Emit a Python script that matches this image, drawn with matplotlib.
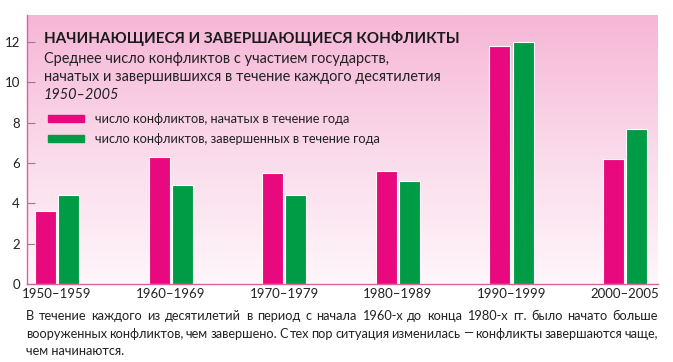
import numpy as np
import matplotlib
matplotlib.use("Agg")
import matplotlib.pyplot as plt
from matplotlib.colors import LinearSegmentedColormap

# data
decades = ["1950–1959", "1960–1969", "1970–1979", "1980–1989", "1990–1999", "2000–2005"]
started = [3.6, 6.3, 5.5, 5.6, 11.8, 6.2]
ended = [4.4, 4.9, 4.4, 5.1, 12.0, 7.7]
yticks = [0, 2, 4, 6, 8, 10, 12]

title = "НАЧИНАЮЩИЕСЯ И ЗАВЕРШАЮЩИЕСЯ КОНФЛИКТЫ"
subtitle = ["Среднее число конфликтов с участием государств,",
            "начатых и завершившихся в течение каждого десятилетия"]
period = "1950–2005"
legend_labels = ["число конфликтов, начатых в течение года",
                 "число конфликтов, завершенных в течение года"]
caption = ["В течение каждого из десятилетий в период с начала 1960-х до конца 1980-х гг. было начато больше",
           "вооруженных конфликтов, чем завершено. С тех пор ситуация изменилась — конфликты завершаются чаще,",
           "чем начинаются."]

PINK = "#E8097F"
GREEN = "#009B45"
FONT = "Lato"
W, H = 673, 362

plt.rcParams['font.family'] = [FONT, 'DejaVu Sans']

fig = plt.figure(figsize=(W / 100, H / 100), dpi=100)
ax = fig.add_axes([27 / W, 1 - 284 / H, (658 - 27) / W, (284 - 15) / H])

def px(x, y):
    return x / W, 1 - y / H

# pink gradient background
cmap = LinearSegmentedColormap.from_list("bg", ["#F6B6D6", "#FADAEA", "#FFF6FA"])
grad = np.linspace(0, 1, 256).reshape(-1, 1)
ax.imshow(grad, cmap=cmap, aspect="auto", extent=[0, 1, 0, 1],
          transform=ax.transAxes, zorder=0)

x = np.arange(len(decades))
bw = 0.185
ax.bar(x - 0.102, started, bw, color=PINK, edgecolor="white", linewidth=0.8, zorder=2)
ax.bar(x + 0.102, ended, bw, color=GREEN, edgecolor="white", linewidth=0.8, zorder=2)

ax.set_xlim(-0.264, 5.29)
ax.set_ylim(0, 13.34)
ax.set_yticks(yticks)
ax.set_xticks(x)
ax.set_xticklabels(decades)
ax.tick_params(axis="y", direction="in", length=6, width=0.8, color="#9a7a88",
               labelsize=9.5, pad=5, labelcolor="#222222")
ax.tick_params(axis="x", length=0, labelsize=9.5, pad=3, labelcolor="#222222")
for s in ["top", "right"]:
    ax.spines[s].set_visible(False)
for s in ["left", "bottom"]:
    ax.spines[s].set_color("#E0609A")
    ax.spines[s].set_linewidth(1.0)

# titles
fig.text(*px(44, 38), title, fontsize=10.9, fontweight="bold", va="center", ha="left",
         color="#1a1a1a")
fig.text(*px(44, 59), subtitle[0], fontsize=10.45, va="center", ha="left", color="#222222")
fig.text(*px(44, 77), subtitle[1], fontsize=10.45, va="center", ha="left", color="#222222")
fig.text(*px(44, 95), period, fontsize=10.45, style="italic", va="center", ha="left",
         color="#222222")

# legend
for i, (lab, c) in enumerate(zip(legend_labels, [PINK, GREEN])):
    yc = 119 + i * 20
    fig.patches.append(plt.Rectangle(px(48, yc + 3), 36 / W, 7 / H, color=c,
                                     transform=fig.transFigure, figure=fig))
    fig.text(*px(95, yc), lab, fontsize=9.2, va="center", ha="left", color="#222222")

# caption, justified
fig.canvas.draw()
renderer = fig.canvas.get_renderer()
left, right = 26, 658
for i, line in enumerate(caption):
    yc = 316 + i * 17.5
    if i == len(caption) - 1:
        fig.text(*px(left, yc), line, fontsize=9.2, va="center", ha="left", color="#222222")
        continue
    words = line.split(" ")
    texts = [fig.text(0, 0, w, fontsize=9.2, va="center", ha="left", color="#222222")
             for w in words]
    widths = [t.get_window_extent(renderer).width for t in texts]
    gap = (right - left - sum(widths)) / (len(words) - 1)
    xx = left
    for t, w in zip(texts, widths):
        t.set_position(px(xx, yc))
        xx += w + gap

fig.savefig("out.png", dpi=100)
